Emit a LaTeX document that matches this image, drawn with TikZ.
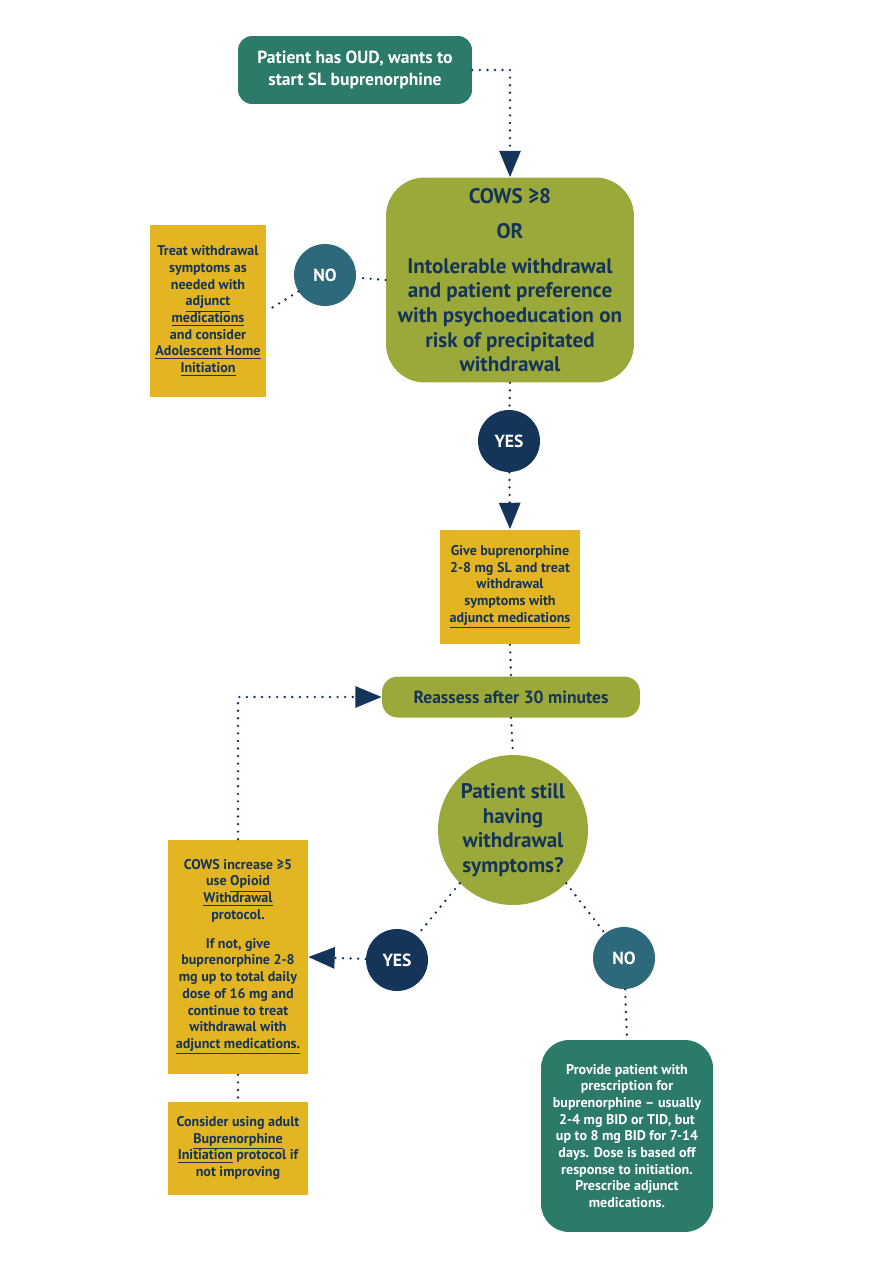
\documentclass[tikz,border=0pt]{standalone}
\usepackage{fontspec}
\setmainfont{PT Sans}
\usepackage{tikz}
\usetikzlibrary{arrows.meta, shapes}
\definecolor{oudteal}{HTML}{2C7A69}
\definecolor{oudolive}{HTML}{9BA83A}
\definecolor{oudyellow}{HTML}{E3B522}
\definecolor{oudnavy}{HTML}{15345A}
\definecolor{oudblue}{HTML}{2D687B}
\tikzset{
    dots/.style={oudnavy, line width=1.5pt, dash pattern=on 0pt off 4.3pt, line cap=round},
    tip/.style={-{Triangle[width=12pt, length=15pt]}},
    tealbox/.style={rectangle, rounded corners=8pt, fill=oudteal, text=white, font=\bfseries, align=center, inner sep=0pt},
    olivebox/.style={rectangle, rounded corners=9pt, fill=oudolive, text=oudnavy, font=\bfseries, align=center, inner sep=0pt},
    yellowbox/.style={rectangle, fill=oudyellow, text=oudnavy, font=\bfseries\footnotesize, align=center, inner sep=0pt},
    answer/.style={circle, text=white, font=\bfseries, minimum size=1.24cm, inner sep=0pt}
}
\begin{document}
\begin{tikzpicture}[x=0.02cm, y=0.02cm]
    \useasboundingbox[fill=white] (0, 0) rectangle (889, -1270);

    \node[tealbox, minimum width=4.68cm, minimum height=1.36cm] (start) at (355, -70) {Patient has OUD, wants to\\start SL buprenorphine};
    \node[olivebox, rounded corners=22pt, minimum width=4.96cm, minimum height=4.1cm, font=\bfseries\large] (cows) at (510, -280) {COWS ≥8\\[6pt] OR\\[6pt] Intolerable withdrawal\\and patient preference\\with psychoeducation on\\risk of precipitated\\withdrawal};
    \node[answer, fill=oudblue] (no1) at (325, -275) {NO};
    \node[yellowbox, minimum width=2.34cm, minimum height=3.44cm] (treat) at (208, -311) {Treat withdrawal\\symptoms as\\needed with\\\underline{adjunct}\\\underline{medications}\\and consider\\\underline{Adolescent Home}\\\underline{Initiation}};
    \node[answer, fill=oudnavy] (yes1) at (509, -441) {YES};
    \node[yellowbox, minimum width=2.8cm, minimum height=2.3cm] (give) at (510, -587) {Give buprenorphine\\2-8 mg SL and treat\\withdrawal\\symptoms with\\\underline{adjunct medications}};
    \node[olivebox, minimum width=5.16cm, minimum height=0.82cm] (reassess) at (511, -697) {Reassess after 30 minutes};
    \node[olivebox, circle, minimum size=3cm, font=\bfseries\large] (still) at (513, -830) {Patient still\\having\\withdrawal\\symptoms?};
    \node[answer, fill=oudnavy] (yes2) at (397, -960) {YES};
    \node[answer, fill=oudblue] (no2) at (624, -958) {NO};
    \node[yellowbox, minimum width=2.8cm, minimum height=4.7cm] (increase) at (238, -957) {COWS increase ≥5\\use \underline{Opioid}\\\underline{Withdrawal}\\protocol.\\[7pt] If not, give\\buprenorphine 2-8\\mg up to total daily\\dose of 16 mg and\\continue to treat\\withdrawal with\\\underline{adjunct medications.}};
    \node[yellowbox, minimum width=2.8cm, minimum height=1.86cm] (adult) at (238, -1148) {Consider using adult\\\underline{Buprenorphine}\\\underline{Initiation} protocol if\\not improving};
    \node[tealbox, rounded corners=16pt, minimum width=3.44cm, minimum height=3.84cm, font=\bfseries\footnotesize] (provide) at (627, -1136) {Provide patient with\\prescription for\\buprenorphine -- usually\\2-4 mg BID or TID, but\\up to 8 mg BID for 7-14\\days. Dose is based off\\response to initiation.\\Prescribe adjunct\\medications.};

    \draw[dots, tip] (start.east) -| (cows.north);
    \draw[dots] (cows.west) -- (no1);
    \draw[dots] (no1) -- (treat.east);
    \draw[dots] (cows.south) -- (yes1);
    \draw[dots, tip] (yes1) -- (give.north);
    \draw[dots] (give.south) -- (reassess.north);
    \draw[dots] (reassess.south) -- (still.north);
    \draw[dots] (still.south west) -- (yes2);
    \draw[dots, tip] (yes2) -- (increase.east);
    \draw[dots] (still.south east) -- (no2);
    \draw[dots] (no2) -- (provide.north);
    \draw[dots, tip] (increase.north) |- (reassess.west);
    \draw[dots] (increase.south) -- (adult.north);
\end{tikzpicture}
\end{document}
